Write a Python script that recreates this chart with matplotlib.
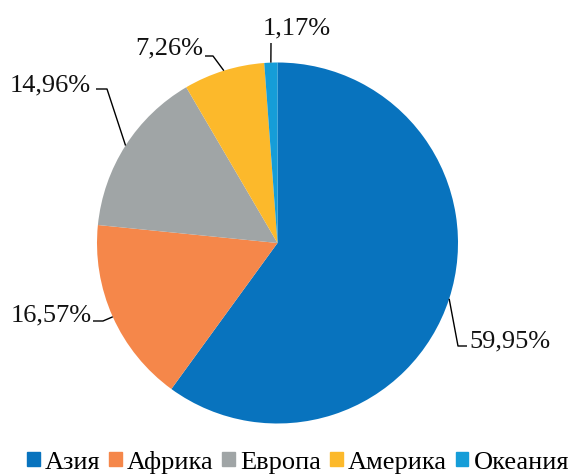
import matplotlib
matplotlib.use("Agg")
import matplotlib.pyplot as plt
import matplotlib.patches as mpatches
import numpy as np

categories = ["Азия", "Африка", "Европа", "Америка", "Океания"]
values = [59.95, 16.57, 14.96, 7.26, 1.17]
labels = ["59,95%", "16,57%", "14,96%", "7,26%", "1,17%"]
colors = ["#0873BE", "#F5874A", "#A0A5A6", "#FCB92B", "#159DD8"]

W, H = 568, 477
plt.rcParams['font.family'] = ['Liberation Serif', 'DejaVu Serif']
fig = plt.figure(figsize=(W / 100, H / 100), dpi=100)
ax = fig.add_axes([0, 0, 1, 1])

cx, cy, r = 277.5, H - 244, 180.5
wedges, _ = ax.pie(values, colors=colors, startangle=90, counterclock=False,
                   radius=r, center=(cx, cy), frame=True,
                   wedgeprops=dict(linewidth=0))
ax.set_xlim(0, W)
ax.set_ylim(0, H)
ax.set_aspect('equal')
ax.axis('off')

# label layout (image pixel coords): elbow, line end, text anchor, alignment
layout = [
    dict(elbow=(458, 347), end=(467, 347), text=(469, 341), ha='left'),
    dict(elbow=(103, 322), end=(93, 322), text=(92, 315), ha='right'),
    dict(elbow=(107, 90), end=(96, 90), text=(91, 85), ha='right'),
    dict(elbow=(213, 57), end=(205, 57), text=(203, 48), ha='right'),
    dict(elbow=None, end=(271, 44), text=(297, 28), ha='center'),
]

for w, lab, lay in zip(wedges, labels, layout):
    ang = np.deg2rad((w.theta1 + w.theta2) / 2)
    ex, ey = cx + r * np.cos(ang), cy + r * np.sin(ang)
    xs, ys = [ex], [ey]
    if lay['elbow'] is not None:
        xs.append(lay['elbow'][0]); ys.append(H - lay['elbow'][1])
    xs.append(lay['end'][0]); ys.append(H - lay['end'][1])
    ax.plot(xs, ys, color='black', lw=1.0, solid_capstyle='butt')
    ax.text(lay['text'][0], H - lay['text'][1], lab, ha=lay['ha'], va='center',
            fontsize=19, color='#111111')

handles = [mpatches.Patch(color=c, label=cat) for c, cat in zip(colors, categories)]
fig.legend(handles=handles, loc='center', bbox_to_anchor=(298 / W, 1 - 463 / H),
           ncol=5, frameon=False, fontsize=19, handlelength=0.48, handleheight=0.48,
           handletextpad=0.2, columnspacing=0.33, borderpad=0, borderaxespad=0)

fig.savefig("out.png", dpi=100)
